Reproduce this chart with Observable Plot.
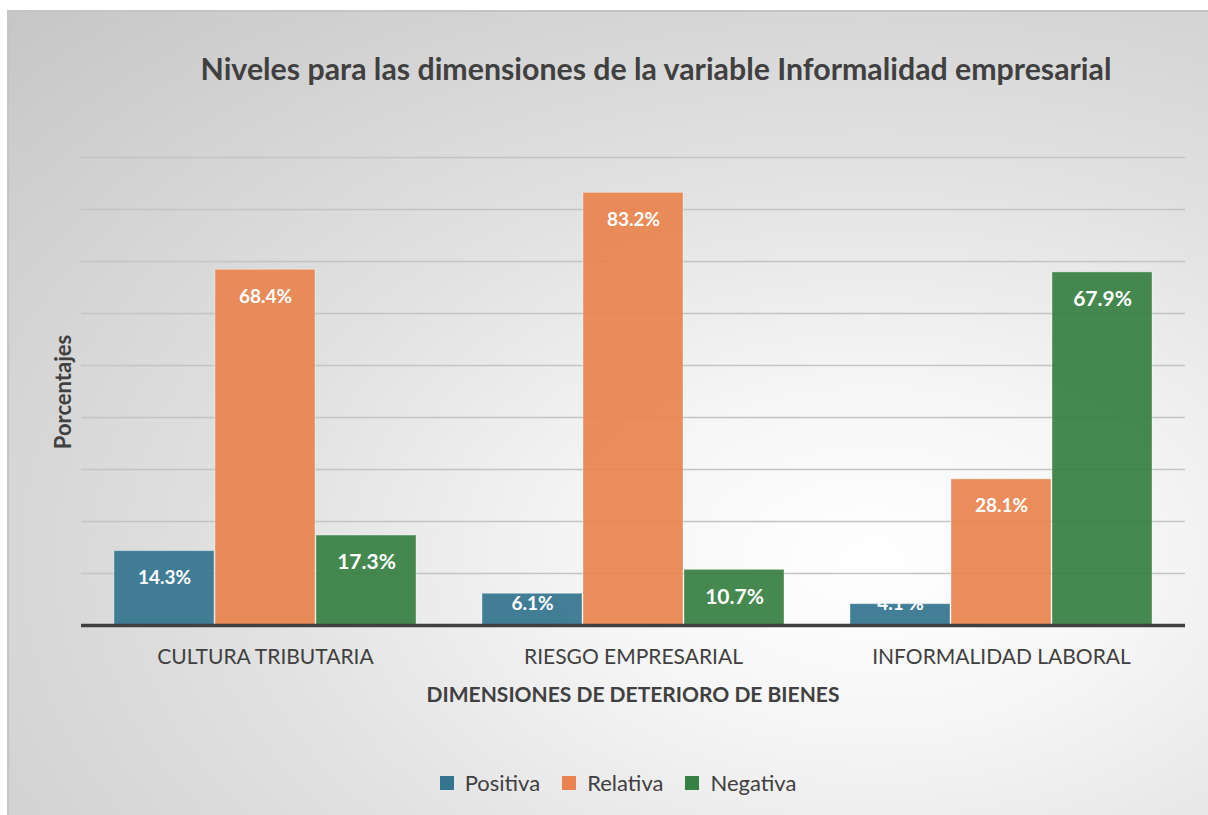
<!DOCTYPE html>
<html>
<head>
<meta charset="utf-8">
<script src="https://cdn.jsdelivr.net/npm/d3@7"></script>
<script src="https://cdn.jsdelivr.net/npm/@observablehq/plot@0.6"></script>
<style>
  html, body { margin: 0; padding: 0; background: #ffffff; }
  body { width: 1208px; height: 815px; position: relative; overflow: hidden; font-family: Lato, "Open Sans", sans-serif; }
  #frame {
    position: absolute; left: 7px; top: 10px; width: 1201px; height: 805px;
    border-top: 2px solid #c4c4c4; border-left: 2px solid #c4c4c4; box-sizing: border-box;
    background: radial-gradient(ellipse farthest-corner at 72% 68%, #ffffff 0%, #f6f6f6 22%, #e2e2e2 50%, #c6c6c6 100%);
  }
  #title { position: absolute; left: 647px; top: 38px; transform: translateX(-50%); white-space: nowrap;
    font: bold 30.3px Lato, sans-serif; color: #404040; }
  #chart { position: absolute; left: 0px; top: 108px; }
  #ylabel { position: absolute; left: 53px; top: 380px; transform: translate(-50%, -50%) rotate(-90deg);
    font: bold 22px Lato, sans-serif; color: #404040; white-space: nowrap; }
  #xlabel { position: absolute; left: 624px; top: 669px; transform: translateX(-50%); white-space: nowrap;
    font: bold 21px Lato, sans-serif; color: #404040; }
  #legend { position: absolute; left: 14px; width: 1212px; top: 754px; display: flex; justify-content: center; }
</style>
</head>
<body>
<div id="frame">
  <div id="title">Niveles para las dimensiones de la variable Informalidad empresarial</div>
  <div id="ylabel">Porcentajes</div>
  <div id="chart"></div>
  <div id="xlabel">DIMENSIONES DE DETERIORO DE BIENES</div>
  <div id="legend"></div>
</div>
<script>
const dimensiones = ["CULTURA TRIBUTARIA", "RIESGO EMPRESARIAL", "INFORMALIDAD LABORAL"];
const niveles = ["Positiva", "Relativa", "Negativa"];
const positiva = [14.3, 6.1, 4.1];
const relativa = [68.4, 83.2, 28.1];
const negativa = [17.3, 10.7, 67.9];
const etiquetas = {
  Positiva: ["14.3%", "6.1%", "4.1 %"],
  Relativa: ["68.4%", "83.2%", "28.1%"],
  Negativa: ["17.3%", "10.7%", "67.9%"]
};
const colores = ["#35748F", "#EA834F", "#378043"];
const gridValues = [10, 20, 30, 40, 50, 60, 70, 80, 90];

const series = {Positiva: positiva, Relativa: relativa, Negativa: negativa};
const data = [];
dimensiones.forEach((dim, i) => {
  niveles.forEach(n => {
    data.push({dim, nivel: n, value: series[n][i], label: etiquetas[n][i]});
  });
});

const plot = Plot.plot({
  width: 1199,
  height: 601,
  marginLeft: 71,
  marginRight: 23,
  marginTop: 37,
  marginBottom: 96,
  style: {background: "transparent", fontFamily: "Lato, sans-serif", color: "#404040"},
  fx: {domain: dimensiones, padding: 0, label: null},
  x: {domain: niveles, paddingInner: 0.01, paddingOuter: 0.32, axis: null},
  y: {domain: [0, 90], axis: null},
  color: {domain: niveles, range: colores},
  marks: [
    Plot.ruleY(gridValues, {stroke: "#c4c4c4", strokeWidth: 1.5}),
    Plot.barY(data, {fx: "dim", x: "nivel", y: "value", fill: "nivel", fillOpacity: 0.93,
      stroke: "#ffffff", strokeOpacity: 0.35, strokeWidth: 1}),
    Plot.ruleY([0], {stroke: "#404040", strokeWidth: 3.5}),
    Plot.text(data, {fx: "dim", x: "nivel", y: d => Math.max(d.value, 9.4), text: "label",
      dy: 27, fill: "white", fontWeight: "bold",
      fontSize: d => d.nivel === "Negativa" ? 21 : 19, lineAnchor: "middle"}),
    Plot.axisFx({anchor: "bottom", tickSize: 0, tickPadding: 24, fontSize: 21, label: null,
      fill: "#404040"})
  ]
});
document.getElementById("chart").appendChild(plot);

const leg = Plot.legend({
  color: {domain: niveles, range: colores},
  legend: "swatches",
  swatchSize: 14,
  style: {fontSize: "22px", fontFamily: "Lato, sans-serif", color: "#404040", background: "transparent"}
});
document.getElementById("legend").appendChild(leg);
</script>
</body>
</html>
